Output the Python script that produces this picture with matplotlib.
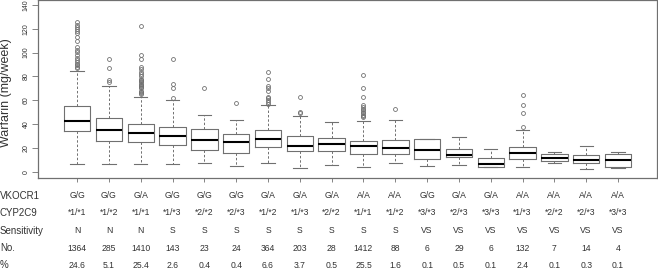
"""Warfarin weekly dose by VKORC1 / CYP2C9 genotype (boxplot + table)."""

import matplotlib
matplotlib.use("Agg")
import matplotlib.pyplot as plt
import matplotlib.transforms as mtransforms

plt.rcParams["font.family"] = ["Liberation Sans", "DejaVu Sans"]

# genotype table
vkocr1 = ["G/G", "G/G", "G/A", "G/G", "G/G", "G/G", "G/A", "G/A", "G/A",
          "A/A", "A/A", "G/G", "G/A", "G/A", "A/A", "A/A", "A/A", "A/A"]
cyp2c9 = ["*1/*1", "*1/*2", "*1/*1", "*1/*3", "*2/*2", "*2/*3", "*1/*2", "*1/*3", "*2/*2",
          "*1/*1", "*1/*2", "*3/*3", "*2/*3", "*3/*3", "*1/*3", "*2/*2", "*2/*3", "*3/*3"]
sensitivity = ["N", "N", "N", "S", "S", "S", "S", "S", "S",
               "S", "S", "VS", "VS", "VS", "VS", "VS", "VS", "VS"]
counts = ["1364", "285", "1410", "143", "23", "24", "364", "203", "28",
          "1412", "88", "6", "29", "6", "132", "7", "14", "4"]
percents = ["24.6", "5.1", "25.4", "2.6", "0.4", "0.4", "6.6", "3.7", "0.5",
            "25.5", "1.6", "0.1", "0.5", "0.1", "2.4", "0.1", "0.3", "0.1"]

# box statistics (mg/week)
whis_lo = [7.1, 7.0, 7.0, 7.0, 7.3, 5.4, 7.3, 3.7, 5.9,
           4.0, 7.3, 5.1, 5.6, 4.2, 4.0, 7.3, 2.3, 3.1]
q1 = [34.4, 26.2, 24.8, 22.6, 18.3, 16.4, 21.2, 17.8, 17.8,
      15.2, 15.5, 10.7, 12.7, 4.5, 10.7, 9.3, 7.3, 4.0]
med = [42.6, 35.3, 32.7, 30.2, 26.5, 24.8, 27.7, 21.5, 23.1,
       21.5, 20.3, 18.3, 14.4, 6.4, 16.1, 11.6, 9.9, 10.2]
q3 = [55.0, 45.4, 40.0, 37.8, 36.1, 31.6, 35.0, 30.2, 28.2,
      26.2, 26.8, 27.7, 19.2, 11.5, 21.2, 15.0, 14.1, 15.5]
whis_hi = [85.0, 72.3, 63.2, 60.4, 48.0, 44.0, 56.2, 46.9, 42.1,
           42.6, 44.0, 27.7, 29.1, 19.2, 35.3, 16.7, 21.5, 16.7]
outliers = [
    [87.0, 88.0, 89.2, 90.6, 92.0, 93.4, 95.4, 97.7, 100.5, 102.5, 104.7,
     109.5, 113.0, 116.0, 118.0, 120.0, 121.5, 123.0, 125.9],
    [75.6, 77.0, 87.2, 94.8],
    [65.0, 66.0, 67.0, 68.0, 70.0, 71.0, 72.0, 73.0, 74.0, 75.0, 76.0, 77.0,
     78.0, 80.0, 82.0, 84.0, 86.0, 88.0, 94.3, 97.7, 122.0],
    [62.0, 70.0, 73.7, 94.8],
    [70.0],
    [57.9],
    [57.3, 58.7, 60.4, 61.8, 63.2, 68.0, 70.0, 71.7, 77.9, 84.1],
    [49.4, 50.2, 62.9],
    [],
    [45.7, 46.9, 48.0, 49.1, 50.2, 51.7, 53.0, 54.8, 56.4, 63.0, 70.0, 81.6],
    [52.8],
    [],
    [],
    [],
    [37.5, 49.1, 55.9, 64.6],
    [],
    [],
    [],
]

yticks = [0, 20, 40, 60, 80, 100, 120, 140]

GRAY = "#707070"
TXT = "#333333"

stats = []
for i in range(len(med)):
    stats.append({"whislo": whis_lo[i], "q1": q1[i], "med": med[i],
                  "q3": q3[i], "whishi": whis_hi[i], "fliers": outliers[i]})

positions = list(range(1, len(med) + 1))

fig = plt.figure(figsize=(6.58, 2.69), dpi=100)
ax = fig.add_axes([0.058, 0.338, 0.94, 0.662])

ax.bxp(stats, positions=positions, widths=0.83, capwidths=0.42,
       showfliers=True,
       boxprops=dict(color=GRAY, linewidth=0.8),
       medianprops=dict(color="black", linewidth=1.5),
       whiskerprops=dict(color=GRAY, linewidth=0.7, linestyle=(0, (2.5, 2))),
       capprops=dict(color=GRAY, linewidth=0.8),
       flierprops=dict(marker="o", markersize=2.8, markerfacecolor="none",
                       markeredgecolor=GRAY, markeredgewidth=0.6))

ax.set_xlim(-0.225, 19.215)
ax.set_ylim(-5, 144)
ax.set_yticks(yticks)
ax.set_yticklabels([str(v) for v in yticks], rotation=90, va="center",
                   fontsize=5, color=TXT)
ax.set_xticks(positions)
ax.set_xticklabels([])
ax.tick_params(axis="y", length=4, width=0.6, color=GRAY, pad=2)
ax.tick_params(axis="x", length=3, width=0.6, color=GRAY)
for sp in ax.spines.values():
    sp.set_color(GRAY)
    sp.set_linewidth(0.9)

fig.text(0.009, 0.655, "Warfarin (mg/week)", rotation=90, ha="center",
         va="center", fontsize=9, color=TXT)

# genotype table under the axis
trans = mtransforms.blended_transform_factory(ax.transData, ax.transAxes)
rows = [("VKOCR1", vkocr1, -0.1), ("CYP2C9", cyp2c9, -0.195),
        ("Sensitivity", sensitivity, -0.295), ("No.", counts, -0.395),
        ("%", percents, -0.49)]
for name, vals, yrow in rows:
    ytxt = fig.transFigure.inverted().transform(
        ax.transAxes.transform((0, yrow)))[1]
    fig.text(0.0, ytxt, name, ha="left", va="center", fontsize=7, color=TXT)
    for p, v in zip(positions, vals):
        ax.text(p, yrow, v, transform=trans, ha="center", va="center",
                fontsize=6.2, color=TXT, clip_on=False)

fig.savefig("out.png", dpi=100)
